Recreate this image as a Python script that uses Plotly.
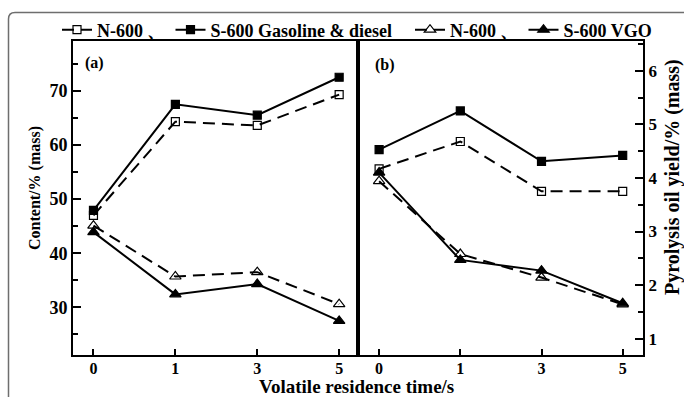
import plotly.graph_objects as go

# ---------------- data ----------------
times = ["0", "1", "3", "5"]  # volatile residence time / s

# panel (a): content, % (mass)
gd_n600_content = [47.0, 64.3, 63.6, 69.3]
gd_s600_content = [47.9, 67.5, 65.5, 72.5]
vgo_n600_content = [45.1, 35.7, 36.5, 30.6]
vgo_s600_content = [43.9, 32.4, 34.3, 27.5]

# panel (b): pyrolysis oil yield, % (mass)
gd_n600_yield = [4.17, 4.68, 3.75, 3.75]
gd_s600_yield = [4.53, 5.25, 4.31, 4.42]
vgo_n600_yield = [3.94, 2.58, 2.14, 1.64]
vgo_s600_yield = [4.10, 2.47, 2.27, 1.66]

legend_names = ["N-600 、", "S-600 Gasoline & diesel", "N-600 、", "S-600 VGO"]

# ---------------- styling ----------------
FONT = "Liberation Serif"
BLACK = "black"
styles = [
    dict(symbol="square-open", size=8, dash="12px,7px", legend="legend"),
    dict(symbol="square", size=8, dash="solid", legend="legend"),
    dict(symbol="triangle-up-open", size=10, dash="12px,7px", legend="legend2"),
    dict(symbol="triangle-up", size=10, dash="solid", legend="legend2"),
]

fig = go.Figure()

panel_a = [gd_n600_content, gd_s600_content, vgo_n600_content, vgo_s600_content]
panel_b = [gd_n600_yield, gd_s600_yield, vgo_n600_yield, vgo_s600_yield]

for vals, st, name in zip(panel_a, styles, legend_names):
    fig.add_trace(go.Scatter(
        x=times, y=vals, mode="lines+markers", name=name,
        xaxis="x", yaxis="y", legend=st["legend"],
        line=dict(color=BLACK, width=2, dash=st["dash"]),
        marker=dict(symbol=st["symbol"], size=st["size"], color=BLACK,
                    line=dict(color=BLACK, width=1.2)),
    ))
for vals, st, name in zip(panel_b, styles, legend_names):
    fig.add_trace(go.Scatter(
        x=times, y=vals, mode="lines+markers", name=name, showlegend=False,
        xaxis="x2", yaxis="y2",
        line=dict(color=BLACK, width=2, dash=st["dash"]),
        marker=dict(symbol=st["symbol"], size=st["size"], color=BLACK,
                    line=dict(color=BLACK, width=1.2)),
    ))

def bold(size):
    return dict(family=FONT, size=size, color=BLACK, weight="bold")

common_x = dict(type="category", showline=True, linewidth=2, linecolor=BLACK,
                mirror=True, ticks="inside", ticklen=6, tickwidth=2,
                tickcolor=BLACK, tickfont=bold(16), ticklabelstandoff=-2,
                showgrid=False, zeroline=False)
common_y = dict(showline=True, linewidth=2, linecolor=BLACK, mirror=True,
                ticks="inside", ticklen=8, tickwidth=2, tickcolor=BLACK,
                showgrid=False, zeroline=False)

legend_common = dict(orientation="h", xanchor="left", yanchor="middle",
                     font=bold(18), bgcolor="rgba(0,0,0,0)", itemwidth=30,
                     borderwidth=0)

def px2x(px):
    return (px - 73) / 570

def py2y(py):
    return (355 - py) / 314

frame_path = (f"M {px2x(8.5)},{py2y(400)} L {px2x(8.5)},{py2y(19)} "
              f"Q {px2x(8.5)},{py2y(12.5)} {px2x(15)},{py2y(12.5)} "
              f"L {px2x(700)},{py2y(12.5)}")

def note(text, x, y, size, xref="paper", yref="paper", angle=0):
    return dict(text=text, xref=xref, yref=yref, x=x, y=y, textangle=angle,
                xanchor="center", yanchor="middle", showarrow=False,
                font=bold(size))

fig.update_layout(
    width=684, height=397,
    margin=dict(l=73, r=41, t=41, b=42),
    paper_bgcolor="white", plot_bgcolor="white",
    font=dict(family=FONT, color=BLACK),
    xaxis=dict(domain=[0, 0.5], anchor="y", range=[-0.25, 3.23], **common_x),
    xaxis2=dict(domain=[0.5, 1], anchor="y2", range=[-0.26, 3.25], **common_x),
    yaxis=dict(domain=[0, 1], anchor="x", range=[21.2, 79.2], tick0=0, dtick=10,
               tickfont=bold(18),
               minor=dict(dtick=5, ticks="inside", ticklen=5, tickwidth=2,
                          tickcolor=BLACK),
               **common_y),
    yaxis2=dict(domain=[0, 1], anchor="x2", side="right", range=[0.695, 6.556],
                tick0=0, dtick=1, tickfont=bold(17),
                minor=dict(dtick=0.5, ticks="inside", ticklen=5, tickwidth=2,
                           tickcolor=BLACK),
                **common_y),
    legend=dict(x=px2x(57), y=py2y(30), **legend_common),
    legend2=dict(x=px2x(410), y=py2y(30), **legend_common),
    showlegend=True,
    shapes=[dict(type="path", path=frame_path, xref="paper", yref="paper",
                 line=dict(color="#6e6e6e", width=1.5), layer="below")],
    annotations=[
        note("(a)", 0.077, 0.93, 16, xref="x domain", yref="y domain"),
        note("(b)", 0.095, 0.925, 16, xref="x2 domain", yref="y2 domain"),
        note("Volatile residence time/s", px2x(356), py2y(386.5), 19),
        note("Content/% (mass)", px2x(35), py2y(188), 16, angle=-90),
        note("Pyrolysis oil yield/% (mass)", px2x(672), py2y(177), 20, angle=-90),
    ],
)

fig.write_html("out.html")
